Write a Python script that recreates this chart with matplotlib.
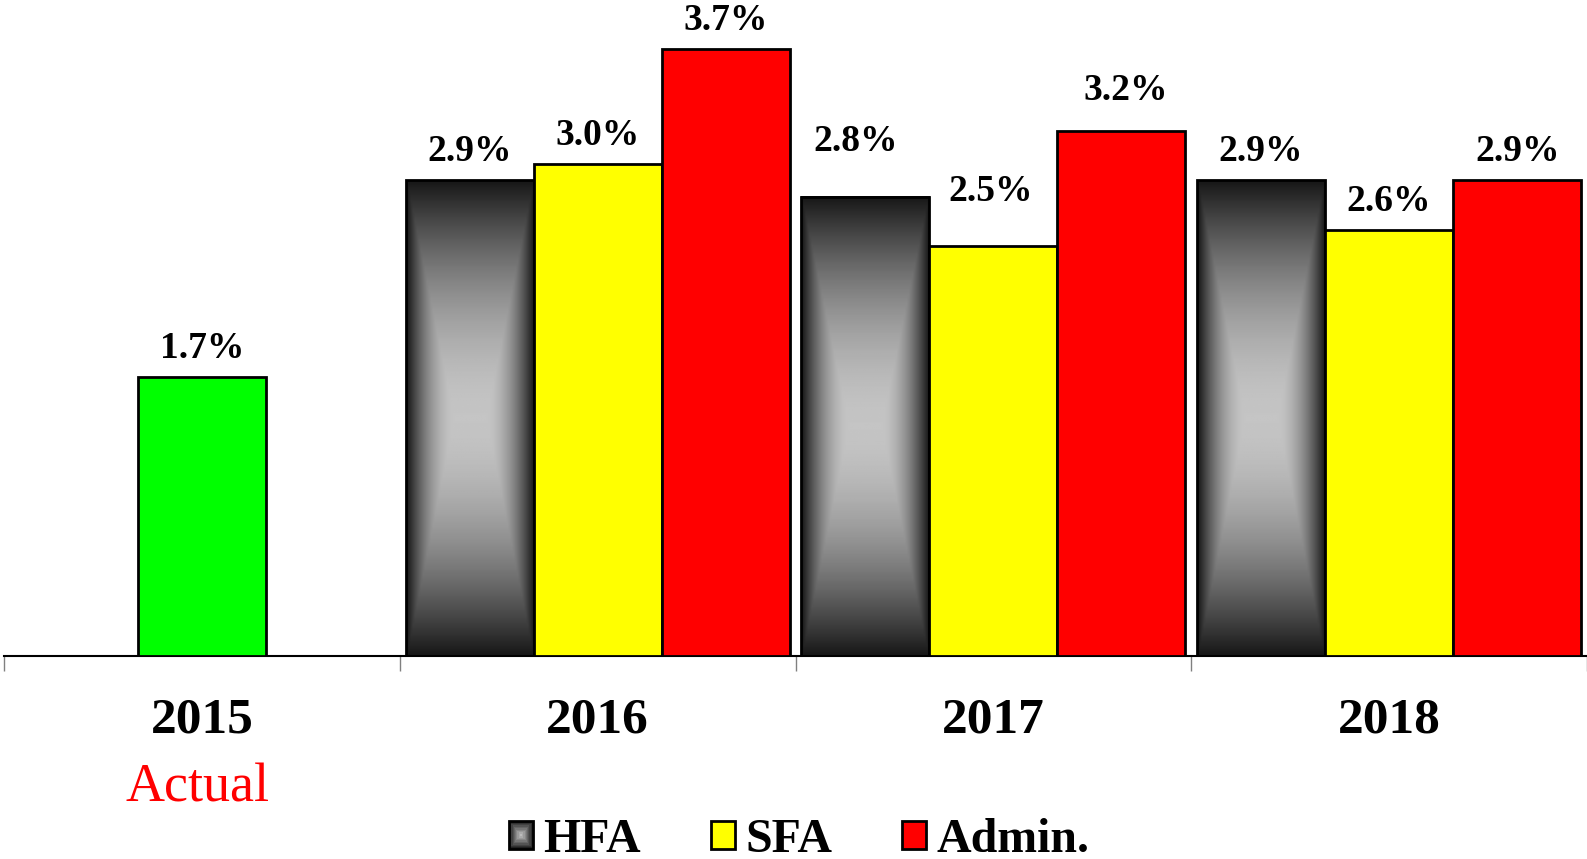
import numpy as np
import matplotlib.pyplot as plt
from matplotlib.patches import Rectangle
from matplotlib.legend_handler import HandlerBase

plt.rcParams['font.family'] = ['Liberation Serif', 'DejaVu Serif']

years = ['2015', '2016', '2017', '2018']
actual_2015 = 1.7
hfa = [2.9, 2.8, 2.9]       # 2016-2018
sfa = [3.0, 2.5, 2.6]
admin = [3.7, 3.2, 2.9]
series_names = ['HFA', 'SFA', 'Admin.']

# hand nudges of some value labels (points), as placed in the original
nudge = {(0, 1): (-7, 19.5), (1, 1): (-2, 19), (2, 1): (3, 9)}


def box_gradient(nx=64, ny=256, core=0.25, p=1.8):
    # light centre fading to dark edges, rectangular "from centre" fill
    u = np.abs(np.linspace(-1, 1, nx))
    v = np.abs(np.linspace(-1, 1, ny))
    U, V = np.meshgrid(u, v)
    dx = np.clip((U - core) / (1 - core), 0, 1)
    d = np.maximum(dx, V) ** p
    return 0.77 - 0.68 * d


class GradientHandler(HandlerBase):
    def create_artists(self, legend, orig_handle, xdescent, ydescent,
                       width, height, fontsize, trans):
        cx = -xdescent + width / 2
        cy = -ydescent + height / 2
        arts = []
        n = 10
        for k in range(n):
            f = 1 - k / n
            g = 0.12 + 0.62 * k / (n - 1)
            arts.append(Rectangle((cx - width * f / 2, cy - height * f / 2),
                                  width * f, height * f, facecolor=str(g),
                                  edgecolor='none', transform=trans))
        arts.append(Rectangle((-xdescent, -ydescent), width, height,
                              facecolor='none', edgecolor='black', lw=2,
                              transform=trans))
        return arts


W, H = 1587, 859
fig = plt.figure(figsize=(W / 100, H / 100), dpi=100)
ax = fig.add_axes([4 / W, 1 - 656 / H, 1583 / W, 656 / H])

w = 0.3235
grad = box_gradient()

# 2015 actual
ax.bar(0.5, actual_2015, w, color='#00ff00', edgecolor='black', lw=2, zorder=3)
ax.annotate(f'{actual_2015:.1f}%', (0.5, actual_2015), xytext=(0, 13.7),
            textcoords='offset points', ha='center', va='baseline',
            fontsize=27, fontweight='bold')

xs = np.arange(1, 4) + 0.5
hb = ax.bar(xs - w, hfa, w, facecolor='none', edgecolor='black', lw=2, zorder=3)
for b in hb:
    ax.imshow(grad, cmap='gray', vmin=0, vmax=1, aspect='auto',
              interpolation='bilinear', zorder=2,
              extent=[b.get_x(), b.get_x() + b.get_width(), 0, b.get_height()])
ax.bar(xs, sfa, w, color='#ffff00', edgecolor='black', lw=2, zorder=3)
ax.bar(xs + w, admin, w, color='#ff0000', edgecolor='black', lw=2, zorder=3)

for j, (off, vals) in enumerate(zip([-w, 0, w], [hfa, sfa, admin])):
    for i, (x, v) in enumerate(zip(xs + off, vals)):
        dx, dy = nudge.get((j, i), (0, 0))
        ax.annotate(f'{v:.1f}%', (x, v), xytext=(dx, 13.7 + dy),
                    textcoords='offset points', ha='center', va='baseline',
                    fontsize=27, fontweight='bold')

ax.set_xlim(0, 4)
ax.set_ylim(0, 656 / 164)
for s in ['left', 'right', 'top']:
    ax.spines[s].set_visible(False)
ax.spines['bottom'].set_linewidth(1.5)
ax.set_yticks([])
ax.set_xticks([0, 1, 2, 3, 4])
ax.set_xticklabels([])
ax.tick_params(axis='x', which='major', length=10.8, width=1, color='#808080')
ax.set_xticks(np.arange(4) + 0.5, minor=True)
ax.set_xticklabels(years, minor=True, fontsize=37, fontweight='bold')
ax.tick_params(axis='x', which='minor', length=0, pad=30)

fig.text(198 / W, 1 - 802 / H, 'Actual', color='red', fontsize=39,
         ha='center', va='baseline')

h_hfa = Rectangle((0, 0), 1, 1)
h_sfa = Rectangle((0, 0), 1, 1, facecolor='#ffff00', edgecolor='black', lw=2)
h_adm = Rectangle((0, 0), 1, 1, facecolor='#ff0000', edgecolor='black', lw=2)
fig.legend([h_hfa, h_sfa, h_adm], series_names, loc='center',
           bbox_to_anchor=(799 / W, 1 - 840 / H), ncol=3, frameon=False,
           prop={'weight': 'bold', 'size': 34.5}, handlelength=0.5,
           handleheight=0.5, handletextpad=0.22, columnspacing=1.45,
           borderpad=0, borderaxespad=0,
           handler_map={h_hfa: GradientHandler()})

fig.savefig('out.png', dpi=100)
